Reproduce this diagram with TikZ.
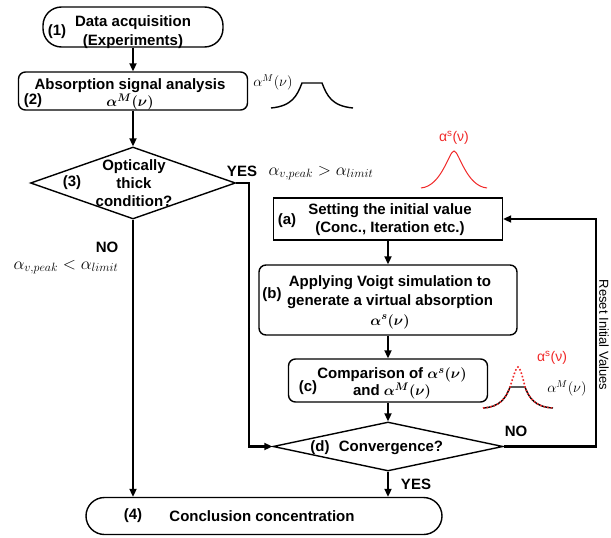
\documentclass[tikz,border=0pt]{standalone}
\usepackage{amsmath,bm}
\usepackage{fontspec}
\setmainfont{Liberation Sans}
\definecolor{simred}{RGB}{240,40,40}
\usetikzlibrary{arrows.meta,positioning,shapes.geometric,calc}

\begin{document}
\begin{tikzpicture}[x=1pt,y=-1pt,
  flow/.style={line width=2.4pt,-{Triangle[length=8pt,width=7pt]}},
  boxtxt/.style={font=\fontsize{15}{19}\selectfont\bfseries,align=center},
  sqbox/.style={draw,line width=1.4pt,inner sep=0pt},
  rbox/.style={sqbox,rounded corners=7pt},
  pill/.style={sqbox,rounded corners=18.5pt},
  decide/.style={draw,line width=1.4pt,diamond,inner sep=0pt},
  tag/.style={font=\fontsize{15}{17}\selectfont\bfseries},
  cond/.style={font=\fontsize{17}{19}\selectfont},
  curvelab/.style={font=\fontsize{14}{16}\selectfont}]
  \useasboundingbox (0,0) rectangle (611,538);

  % main column
  \node[pill,minimum width=180pt,minimum height=40pt] (acq) at (133,27) {};
  \node[boxtxt] (acqtxt) at (133,32) {Data acquisition\\(Experiments)};
  \node[tag] (acqno) at (57,32) {(1)};

  \node[rbox,minimum width=229pt,minimum height=38pt] (ana) at (133,91) {};
  \node[boxtxt] (anatxt) at (130,86) {Absorption signal analysis};
  \node[boxtxt] (anam) at (130,102) {$\bm{\alpha^M(\nu)}$};
  \node[tag] (anano) at (33,101) {(2)};

  \node[decide,minimum width=205pt,minimum height=72pt] (thick) at (133,183) {};
  \node[boxtxt,font=\fontsize{15}{18}\selectfont\bfseries] (thicktxt) at (134,183) {Optically\\thick\\condition?};
  \node[tag] (thickno) at (72,183) {(3)};

  \node[pill,minimum width=356pt,minimum height=37pt] (concl) at (264,516) {};
  \node[tag] (conclno) at (133,516) {(4)};
  \node[boxtxt] (concltxt) at (262,516) {Conclusion concentration};

  % simulation loop
  \node[sqbox,minimum width=229pt,minimum height=42pt] (init) at (388,219) {};
  \node[boxtxt,font=\fontsize{15}{18}\selectfont\bfseries] (inittxt) at (390,220) {Setting the initial value\\(Conc., Iteration etc.)};
  \node[tag] (initno) at (287,221) {(a)};

  \node[rbox,minimum width=258pt,minimum height=70pt] (sim) at (388,300) {};
  \node[boxtxt,font=\fontsize{15}{19.5}\selectfont\bfseries] (simtxt) at (390,302) {Applying Voigt simulation to\\generate a virtual absorption\\$\bm{\alpha^s(\nu)}$};
  \node[tag] (simno) at (272,295) {(b)};

  \node[rbox,minimum width=199pt,minimum height=43pt] (comp) at (388,380.5) {};
  \node[boxtxt,font=\fontsize{15}{17}\selectfont\bfseries] (comptxt) at (392,383.5) {Comparison of $\bm{\alpha^s(\nu)}$\\and $\bm{\alpha^M(\nu)}$};
  \node[tag] (compno) at (308,388) {(c)};

  \node[decide,minimum width=230pt,minimum height=49pt] (conv) at (388,446.5) {};
  \node[tag] (convno) at (320,448) {(d)};
  \node[boxtxt] (convtxt) at (391,448) {Convergence?};

  % connectors
  \draw[flow] (acq.south) -- (acq.south |- ana.north);
  \draw[flow] (ana.south) -- (ana.south |- thick.north);
  \draw[flow] (thick.south) -- (thick.south |- concl.north);
  \draw[flow] (thick.east) -- ++(13,0) |- (conv.west);
  \draw[flow] (init.south) -- (sim.north);
  \draw[flow] (sim.south) -- (comp.north);
  \draw[flow] (comp.south) -- (conv.north);
  \draw[flow] (conv.south) -- (conv.south |- concl.north);
  \draw[flow] (conv.east) -- ++(92,0) coordinate (loopc) |- (init.east);

  % branch labels
  \node[tag] (yes1) at (242,171) {YES};
  \node[cond] (thickcond) at (321,173) {$\alpha_{v,peak} > \alpha_{limit}$};
  \node[tag] (no1) at (107,247) {NO};
  \node[cond] (thincond) at (66,267) {$\alpha_{v,peak} < \alpha_{limit}$};
  \node[tag] (no2) at (516,431) {NO};
  \node[tag] (yes2) at (416,484) {YES};
  \node[font=\fontsize{13}{15}\selectfont,rotate=-90] (reset) at (604,335) {Reset Initial Values};

  % line shapes
  \node[curvelab] (measlab) at (273,82) {$\alpha^M(\nu)$};
  \draw[line width=1.4pt] (271,108) .. controls (292,106) and (297,96) .. (302,83) -- (322,83) .. controls (327,96) and (332,106) .. (353,108);

  \node[curvelab,text=simred] (simlab) at (454,138) {α\textsuperscript{s}(ν)};
  \draw[simred,line width=1pt] (421,188) .. controls (442,186) and (449,151) .. (454,151) .. controls (459,151) and (466,186) .. (487,188);

  \node[curvelab,text=simred] (cmplab1) at (552,358) {α\textsuperscript{s}(ν)};
  \node[curvelab] (cmplab2) at (567,388) {$\alpha^M(\nu)$};
  \draw[line width=1.4pt] (483,408) .. controls (500,407) and (506,398) .. (510,387) -- (525,387) .. controls (529,398) and (535,407) .. (553,408);
  \draw[simred,line width=1.6pt,dotted] (483,408) .. controls (500,407) and (506,398) .. (510,387) .. controls (513,378) and (516,367) .. (518,367) .. controls (520,367) and (523,378) .. (525,387) .. controls (529,398) and (535,407) .. (553,408);
\end{tikzpicture}
\end{document}
